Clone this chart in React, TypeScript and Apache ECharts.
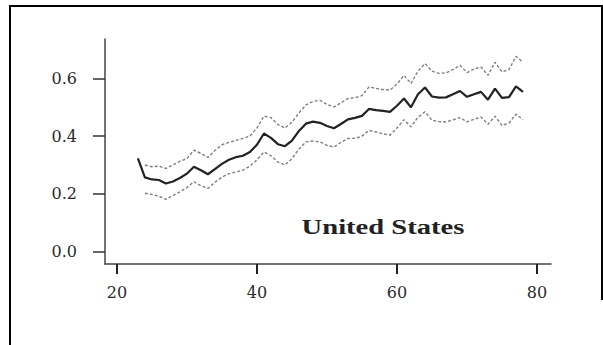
import React, { useEffect, useRef } from "react";
import * as echarts from "echarts";

const AGES = [
  23, 24, 25, 26, 27, 28, 29, 30, 31, 32, 33, 34, 35, 36, 37, 38, 39, 40, 41, 42,
  43, 44, 45, 46, 47, 48, 49, 50, 51, 52, 53, 54, 55, 56, 57, 58, 59, 60, 61, 62,
  63, 64, 65, 66, 67, 68, 69, 70, 71, 72, 73, 74, 75, 76, 77, 78,
];

const ESTIMATE = [
  0.323, 0.257, 0.25, 0.248, 0.236, 0.243, 0.255, 0.27, 0.294, 0.282, 0.268, 0.286,
  0.304, 0.318, 0.327, 0.332, 0.345, 0.37, 0.409, 0.394, 0.372, 0.365, 0.384, 0.418,
  0.443, 0.45, 0.446, 0.435, 0.427, 0.442, 0.458, 0.463, 0.47, 0.494, 0.49, 0.487,
  0.484, 0.505, 0.53, 0.5, 0.545, 0.568, 0.537, 0.533, 0.534, 0.545, 0.556, 0.536,
  0.545, 0.553, 0.526, 0.564, 0.532, 0.535, 0.572, 0.553,
];

const UPPER = [
  null, 0.3, 0.294, 0.296, 0.288, 0.3, 0.313, 0.322, 0.351, 0.34, 0.326, 0.35,
  0.37, 0.378, 0.385, 0.392, 0.4, 0.428, 0.469, 0.464, 0.44, 0.428, 0.448, 0.48,
  0.508, 0.52, 0.524, 0.51, 0.501, 0.515, 0.53, 0.533, 0.54, 0.57, 0.565, 0.561,
  0.559, 0.58, 0.61, 0.582, 0.625, 0.651, 0.625, 0.617, 0.619, 0.63, 0.645, 0.62,
  0.632, 0.639, 0.61, 0.656, 0.622, 0.63, 0.676, 0.656,
];

const LOWER = [
  null, 0.202, 0.198, 0.192, 0.181, 0.194, 0.207, 0.222, 0.242, 0.228, 0.219, 0.24,
  0.258, 0.27, 0.276, 0.282, 0.296, 0.318, 0.345, 0.332, 0.31, 0.3, 0.322, 0.355,
  0.38, 0.383, 0.38, 0.368, 0.362, 0.378, 0.392, 0.392, 0.4, 0.42, 0.414, 0.408,
  0.403, 0.428, 0.457, 0.432, 0.465, 0.484, 0.455, 0.45, 0.449, 0.456, 0.464, 0.449,
  0.458, 0.466, 0.441, 0.469, 0.437, 0.445, 0.476, 0.457,
];

const X_TICKS = [20, 40, 60, 80];
const Y_TICKS = [0, 0.2, 0.4, 0.6];
const PANEL_LABEL = "United States";

export default function App() {
  const ref = useRef<HTMLDivElement>(null);

  useEffect(() => {
    document.body.style.margin = "0";
    const chart = echarts.init(ref.current!, null, { renderer: "svg" });
    const pairs = (vals: (number | null)[]) => AGES.map((a, i) => [a, vals[i]]);
    const tickFont = { fontFamily: "DejaVu Serif", fontSize: 16, color: "#2a2a2a" };

    chart.setOption({
      animation: false,
      backgroundColor: "#ffffff",
      grid: { left: 105, right: 52, top: 39, bottom: 81, containLabel: false },
      xAxis: {
        type: "value",
        min: 18.3,
        max: 82,
        axisLine: { show: true, onZero: false, lineStyle: { color: "#444", width: 1.5 } },
        axisTick: { show: true, customValues: X_TICKS, length: 10, lineStyle: { color: "#222", width: 2 } },
        axisLabel: { show: true, customValues: X_TICKS, margin: 20, ...tickFont },
        splitLine: { show: false },
      },
      yAxis: {
        type: "value",
        min: -0.0426,
        max: 0.736,
        axisLine: { show: true, onZero: false, lineStyle: { color: "#444", width: 1.5 } },
        axisTick: { show: true, customValues: Y_TICKS, length: 12, lineStyle: { color: "#333", width: 1.5 } },
        axisLabel: {
          show: true,
          customValues: Y_TICKS,
          margin: 28,
          formatter: (v: number) => v.toFixed(1),
          ...tickFont,
        },
        splitLine: { show: false },
      },
      graphic: [
        { type: "rect", shape: { x: 9, y: 5, width: 594, height: 2 }, style: { fill: "#000" } },
        { type: "rect", shape: { x: 9, y: 5, width: 2, height: 340 }, style: { fill: "#000" } },
        { type: "rect", shape: { x: 601, y: 5, width: 2, height: 295 }, style: { fill: "#000" } },
        {
          type: "text",
          x: 383,
          y: 227,
          scaleX: 1.3,
          style: {
            text: PANEL_LABEL,
            fontFamily: "Liberation Serif",
            fontWeight: "bold",
            fontSize: 22,
            fill: "#222",
            textAlign: "center",
            textVerticalAlign: "middle",
          },
        },
      ],
      series: [
        {
          type: "line",
          data: pairs(UPPER),
          showSymbol: false,
          symbol: "none",
          lineStyle: { color: "#808080", width: 1.4, type: [3, 2] },
        },
        {
          type: "line",
          data: pairs(LOWER),
          showSymbol: false,
          symbol: "none",
          lineStyle: { color: "#808080", width: 1.4, type: [3, 2] },
        },
        {
          type: "line",
          data: pairs(ESTIMATE),
          showSymbol: false,
          symbol: "none",
          lineStyle: { color: "#222", width: 2.2 },
        },
      ],
    });

    return () => chart.dispose();
  }, []);

  return <div ref={ref} style={{ width: 603, height: 345 }} />;
}
